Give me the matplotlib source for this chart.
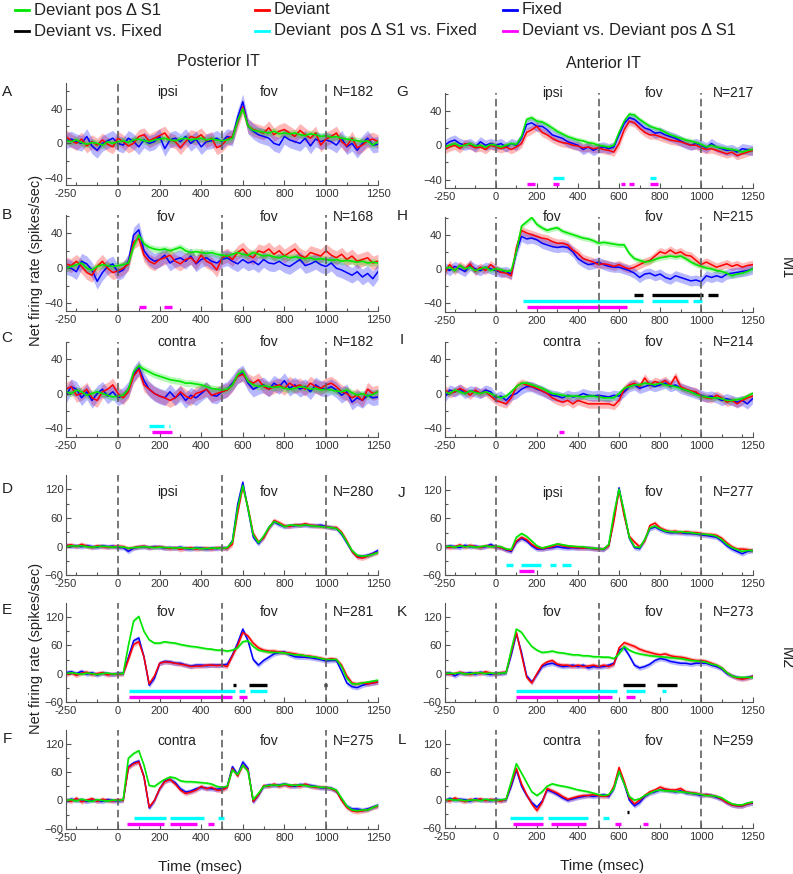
import numpy as np
import matplotlib
matplotlib.use('Agg')
import matplotlib.pyplot as plt

plt.rcParams['font.family'] = ['Liberation Sans', 'DejaVu Sans']

# time grid (msec), one value every 25 ms
t = np.arange(-250, 1251, 25)

# ---------------- M1, posterior IT ----------------
A_green = [3, 2, 4, 1, -1, 1, 0, -2, 2, 0,
           2, 3, 1, 4, 5, 3, 2, 4, 5, 6,
           4, 3, 5, 6, 4, 5, 6, 4, 5, 4,
           3, 4, 6, 26, 40, 20, 15, 14, 13, 12,
           14, 11, 12, 11, 12, 10, 9, 11, 10, 8,
           9, 7, 8, 6, 5, 4, 3, 2, 3, -2, 2]
A_red = [8, 3, 0, 5, -3, 2, -2, 4, -1, -4,
         6, 2, -3, 0, 8, 10, 3, 6, 9, 12,
         4, 2, -5, 2, 8, 6, 10, 3, 6, -5,
         -2, 5, 8, 24, 42, 20, 16, 14, 12, 18,
         10, 14, 16, 12, 8, 15, 10, 6, 12, -2,
         5, 8, 12, 2, -3, 6, -5, -2, 3, 5, 2]
A_blue = [3, 5, 2, 0, 8, -3, -8, 0, 3, 6,
          0, -2, 6, 2, -4, 4, 0, 2, 8, -6,
          4, 6, 2, 8, 0, 5, -4, 2, 3, 6,
          2, 8, 6, 30, 48, 20, 14, 10, 8, 6,
          0, -2, 8, 4, 2, 0, 6, -3, 5, 2,
          4, 2, -2, 6, -4, 0, -8, 0, 6, -2, -1]

B_green = [0, 2, 4, 6, 0, -2, 2, 4, 3, 2,
           3, 4, 6, 25, 38, 28, 24, 22, 21, 22,
           20, 22, 24, 20, 18, 19, 18, 17, 18, 16,
           15, 14, 16, 18, 16, 15, 18, 16, 14, 15,
           13, 12, 14, 12, 13, 12, 11, 12, 10, 11,
           10, 9, 10, 8, 9, 8, 7, 8, 6, 7, 6]
B_red = [5, 3, 8, 2, -5, -8, 2, 8, 0, -5,
         -3, 0, 5, 30, 34, 15, 8, 5, 10, 12,
         15, 8, 5, 10, 12, 6, 15, 8, 5, -2,
         12, 15, 10, 18, 22, 15, 12, 20, 18, 22,
         16, 20, 14, 18, 22, 15, 12, 18, 16, 14,
         20, 15, 12, 16, 10, 14, 8, 10, 12, 6, 8]
B_blue = [2, 0, -4, 8, 5, -2, -15, -5, 2, 5,
          -5, -2, 8, 38, 44, 20, 12, 8, 10, 15,
          6, 10, 12, 8, 14, 5, 10, 12, 8, 6,
          10, 12, 8, 5, 10, 6, 8, 4, 10, 6,
          5, 8, 4, 2, 6, 10, 3, 5, 8, 4,
          2, 6, 0, -2, -5, -8, -4, -10, -6, -12, -4]

C_green = [2, 0, 4, 2, -2, 0, 2, 0, -2, -4,
           -3, -2, 5, 25, 32, 28, 25, 22, 20, 18,
           16, 15, 14, 12, 12, 11, 10, 8, 6, 5,
           4, 5, 10, 22, 26, 14, 10, 8, 9, 8,
           7, 8, 6, 5, 6, 8, 7, 5, 6, 4,
           5, 4, 3, 2, 4, 1, -2, 0, -3, -1, 2]
C_red = [5, 8, -2, 0, 5, -5, -8, 2, 5, 10,
         0, -5, 2, 20, 28, 10, 5, 0, -3, -5,
         -8, -5, 2, -3, -6, 0, 2, 5, -2, 0,
         2, 4, 10, 20, 22, 15, 12, 16, 8, 5,
         8, 10, 6, 12, 8, 10, 5, 12, 8, 6,
         10, 12, 8, 2, 0, -5, -2, -8, 5, 0, 2]
C_blue = [-2, 8, 5, -5, 2, -8, 0, 5, -3, 2,
          -5, -2, 5, 22, 30, 15, 5, 0, -3, -5,
          2, -5, 0, -8, -2, -5, 0, 5, -2, -3,
          2, 5, 12, 20, 24, 12, 5, 8, 10, 5,
          12, 8, 15, 6, 10, 5, 8, 2, 10, 6,
          5, 8, 4, -2, 2, -10, -5, -8, -2, -5, -4]

# ---------------- M1, anterior IT ----------------
G_green = [-2, 0, 2, -1, 0, 2, -1, 0, -2, 1,
           0, -2, 0, 2, 1, 10, 30, 32, 28, 27,
           24, 20, 16, 13, 10, 8, 6, 5, 3, 2,
           0, -1, -2, 0, 15, 28, 36, 35, 30, 26,
           22, 20, 18, 15, 12, 10, 8, 6, 5, 3,
           1, -2, 0, -2, -3, -4, -5, -6, -8, -6, -5]
G_red = [-5, -2, 0, -4, 2, 0, -3, -2, -5, 0,
         -2, -4, -2, -5, -2, 2, 15, 18, 22, 15,
         12, 8, 5, 3, 2, 0, -1, -3, -2, -4,
         -3, -5, -6, -8, 2, 18, 28, 26, 20, 15,
         12, 12, 10, 8, 6, 5, 4, 2, 0, 0,
         -3, -5, -4, -6, -8, -10, -8, -12, -10, -8, -6]
G_blue = [0, 4, 6, 2, 0, 2, -2, 4, 0, 2,
          0, 2, -2, 2, 0, 8, 24, 26, 22, 22,
          18, 12, 10, 8, 4, 2, 0, -5, -2, -6,
          -3, -2, -4, -2, 12, 25, 32, 30, 25, 20,
          18, 14, 15, 12, 10, 8, 5, 2, 0, 2,
          0, -3, 2, -2, -4, -6, -5, -8, -4, -5, -6]

H_green = [0, 2, -2, 4, 0, 2, -2, 0, 2, -2,
           0, -1, -3, -2, 20, 50, 55, 60, 52, 48,
           45, 47, 48, 44, 42, 40, 38, 36, 35, 33,
           30, 31, 30, 29, 28, 28, 18, 12, 10, 8,
           9, 11, 13, 14, 15, 14, 15, 12, 8, 5,
           3, 1, 0, -2, -3, -5, -8, -6, -5, -3, 0]
H_red = [-5, 5, -2, 4, 0, 6, -3, 2, -2, 5,
         0, -4, -5, -8, 25, 45, 42, 40, 38, 36,
         35, 32, 30, 30, 28, 22, 18, 12, 10, 8,
         5, 6, 5, 3, 5, 2, 0, 2, 5, 8,
         10, 15, 20, 18, 22, 18, 20, 16, 15, 10,
         5, 8, 5, 2, 4, 6, 3, 5, 2, 4, 5]
H_blue = [2, -2, 3, 0, -3, 4, 0, -2, 2, 0,
          -2, -4, -3, -6, 20, 38, 35, 36, 34, 30,
          28, 26, 25, 26, 25, 20, 12, 8, 5, 6,
          8, 5, 3, 2, 2, 0, -2, -5, -10, -6,
          -5, -8, -6, -10, -12, -8, -10, -12, -14, -13,
          -15, -8, -10, -8, -10, -6, -5, -4, -3, -2, 0]

I_green = [2, 0, 4, 2, 0, 3, 1, 0, 2, 0,
           -3, -5, -3, 2, 8, 12, 12, 10, 8, 6,
           3, 0, -1, -2, -3, -3, -3, -4, -3, -3,
           -4, -5, -5, -5, 0, 6, 8, 10, 10, 12,
           11, 10, 12, 10, 9, 8, 6, 4, 2, -1,
           -3, -4, -5, -5, -6, -8, -8, -7, -6, -3, 0]
I_red = [5, 0, 2, 6, 3, -2, 4, 0, 2, -3,
         -8, -10, -12, -5, 8, 12, 10, 8, 6, 3,
         0, -5, -8, -10, -8, -12, -8, -10, -12, -12,
         -12, -12, -12, -14, -8, 5, 10, 12, 8, 18,
         10, 14, 12, 15, 10, 20, 8, 5, 3, 2,
         -3, -5, -6, -2, -5, -10, -8, -12, -8, -5, -3]
I_blue = [-5, 4, 2, 5, 0, 3, 2, 0, 4, 2,
          -5, -3, -8, -2, 0, 5, 8, 8, 5, 3,
          0, -2, -3, -5, -2, -4, -3, 0, -2, -3,
          -2, -3, -4, -2, -3, 2, 8, 10, 6, 8,
          10, 8, 10, 12, 8, 10, 6, 4, 2, 0,
          -2, -4, -3, -5, -8, -6, -8, -10, -8, -12, -6]

# ---------------- M2, posterior IT ----------------
D_green = [0, 2, 1, 2, 0, -1, 0, 1, 0, -1,
           0, -1, -3, -2, -1, 0, -1, -2, -1, -2,
           -2, -3, -2, -3, -4, -3, -4, -4, -3, -3,
           -3, -2, 10, 80, 128, 80, 25, 8, 22, 40,
           53, 48, 42, 45, 45, 44, 46, 44, 43, 42,
           41, 40, 38, 28, 10, -8, -18, -20, -19, -16, -12]
D_red = [2, 4, 0, 5, 1, -2, 2, 0, -1, 0,
         1, 0, -4, -2, 0, 1, -2, -1, 0, -2,
         -4, -2, -6, -3, -2, -5, -4, -3, -5, -2,
         -3, -4, 5, 70, 125, 82, 28, 10, 18, 38,
         55, 50, 44, 42, 46, 45, 48, 45, 44, 42,
         42, 40, 40, 30, 12, -10, -22, -24, -20, -15, -12]
D_blue = [3, 1, 2, 0, 2, 0, -1, 2, 0, 1,
          -2, -2, -10, -3, -1, 0, -2, 0, -1, -3,
          -2, -3, -1, -4, -5, -2, -3, -5, -3, -4,
          -2, -3, 12, 88, 135, 78, 20, 6, 20, 40,
          52, 46, 42, 44, 44, 45, 45, 44, 44, 45,
          42, 40, 38, 26, 8, -10, -20, -20, -18, -14, -8]

E_green = [0, 2, 0, -1, 1, 0, -2, 0, 1, -1,
           0, 0, 60, 112, 122, 90, 72, 65, 65, 68,
           66, 65, 62, 60, 58, 57, 55, 53, 52, 50,
           50, 48, 50, 55, 68, 70, 58, 50, 48, 46,
           45, 45, 44, 42, 40, 40, 38, 36, 35, 32,
           30, 30, 30, 15, -10, -22, -22, -20, -18, -16, -14]
E_red = [-3, 2, -4, 1, 3, -2, 0, 2, -3, -1,
         -2, 0, 30, 62, 68, 35, -22, -5, 22, 25,
         24, 22, 20, 18, 15, 16, 16, 18, 18, 17,
         18, 15, 38, 60, 88, 80, 65, 55, 50, 48,
         48, 46, 45, 44, 42, 40, 38, 37, 35, 33,
         30, 32, 30, 18, -5, -20, -22, -20, -22, -20, -18]
E_blue = [2, 4, 0, 5, -1, 2, -3, 1, 0, -2,
          1, 0, 35, 70, 76, 35, -25, -10, 22, 26,
          25, 22, 22, 18, 16, 18, 18, 17, 18, 18,
          18, 20, 40, 65, 95, 70, 30, 18, 28, 35,
          42, 45, 46, 40, 36, 35, 35, 34, 32, 30,
          27, 28, 28, 5, -20, -28, -30, -25, -22, -20, -18]

F_green = [0, 2, -1, 3, 0, -2, 2, 0, -1, 1,
           0, 2, 90, 100, 106, 75, 32, 30, 38, 45,
           50, 48, 42, 40, 40, 39, 38, 37, 35, 30,
           28, 30, 65, 55, 75, 62, 2, 15, 30, 32,
           33, 32, 35, 33, 32, 33, 32, 30, 30, 28,
           28, 26, 22, 5, -12, -20, -22, -20, -20, -15, -10]
F_red = [2, -2, 5, -3, 1, 4, -2, 3, 0, -1,
         2, 0, 70, 78, 82, 50, -14, 0, 25, 40,
         45, 35, 22, 15, 18, 22, 30, 25, 28, 22,
         22, 28, 68, 52, 75, 65, -2, 12, 32, 30,
         35, 30, 34, 30, 33, 30, 35, 30, 28, 28,
         28, 25, 20, 0, -15, -22, -24, -22, -20, -15, -12]
F_blue = [-1, 3, 0, 2, -2, 1, 0, -2, 2, 0,
          -1, 1, 72, 80, 84, 50, -16, 0, 25, 42,
          45, 38, 25, 18, 20, 25, 28, 26, 25, 24,
          25, 30, 72, 55, 82, 68, -3, 12, 30, 33,
          32, 33, 35, 32, 30, 34, 33, 32, 30, 27,
          27, 26, 20, 2, -12, -18, -18, -20, -18, -14, -10]

# ---------------- M2, anterior IT ----------------
J_green = [0, 1, -1, 2, 0, 1, -1, 0, 2, 0,
           1, 0, -5, -6, 20, 28, 22, 12, 2, -3,
           0, 3, 6, 4, 2, 1, 0, 0, -2, -3,
           -4, -5, 5, 70, 122, 75, 20, 0, -2, 15,
           40, 44, 38, 33, 32, 31, 32, 30, 30, 28,
           27, 26, 25, 22, 15, 5, -2, -6, -10, -8, -8]
J_red = [2, -2, 0, 4, -1, 3, 0, -2, 2, 1,
         0, -2, -6, -8, 12, 20, 15, 5, -2, -4,
         -2, 0, 5, 2, 0, -1, -2, -3, -2, -4,
         -5, -5, 2, 55, 120, 65, 22, 10, 0, 12,
         45, 50, 40, 35, 32, 33, 30, 32, 30, 30,
         28, 26, 26, 24, 18, 8, 0, -5, -5, -6, -8]
J_blue = [-1, 2, 0, -2, 3, 0, 1, -1, 0, 5,
          -1, -2, -7, -10, 10, 18, 12, 2, -5, -5,
          -3, -2, 0, -2, -3, -2, -3, -2, -3, -4,
          -5, -6, 3, 60, 125, 70, 18, -2, -4, 15,
          38, 42, 36, 32, 30, 30, 30, 28, 28, 27,
          25, 24, 22, 20, 12, 2, -5, -10, -15, -10, -8]

K_green = [0, 1, 0, 2, -1, 0, 1, 2, 0, 1,
           0, 1, 2, 50, 95, 88, 72, 58, 50, 45,
           46, 48, 45, 44, 42, 40, 40, 38, 38, 36,
           36, 35, 35, 32, 42, 58, 50, 45, 42, 40,
           38, 37, 36, 35, 34, 33, 32, 30, 28, 27,
           26, 24, 20, 18, 12, 2, -5, -8, -8, -8, -8]
K_red = [2, -1, 0, 3, 0, -2, 2, 0, 4, 1,
         -1, 2, 3, 45, 88, 40, -8, -20, 0, 18,
         25, 28, 20, 18, 18, 15, 18, 15, 16, 18,
         15, 18, 15, 20, 55, 66, 62, 58, 52, 48,
         45, 42, 40, 42, 38, 36, 35, 33, 30, 28,
         28, 26, 22, 18, 12, 2, -5, -10, -12, -10, -6]
K_blue = [0, 2, -5, 1, 0, 2, -1, 3, 0, -2,
          1, 0, 2, 40, 85, 45, -5, -18, -2, 15,
          20, 22, 18, 15, 16, 18, 15, 18, 12, 15,
          14, 15, 18, 22, 50, 55, 38, 18, 12, 15,
          20, 28, 32, 30, 26, 24, 22, 22, 20, 22,
          22, 22, 18, 15, 10, 0, -5, -8, -10, -8, -6]

L_green = [0, 2, 0, 1, -1, 0, 1, -1, 2, 0,
           0, 1, 2, 40, 78, 58, 38, 18, 10, 18,
           30, 35, 32, 30, 28, 25, 22, 20, 18, 15,
           12, 10, 12, 25, 62, 35, 8, 0, 3, 10,
           15, 20, 22, 20, 20, 19, 18, 17, 15, 14,
           12, 10, 10, 8, 5, -2, -8, -10, -10, -6, -4]
L_red = [2, -2, 5, 0, -3, 2, 0, 3, -1, 2,
         0, -2, 2, 35, 68, 35, 12, -8, -22, -5,
         25, 20, 15, 8, 2, 5, 8, 10, 10, 12,
         10, 8, 10, 30, 70, 40, 5, -8, 0, 10,
         18, 22, 28, 24, 22, 22, 25, 18, 16, 15,
         12, 12, 10, 8, 2, -5, -10, -12, -12, -8, -5]
L_blue = [-2, 4, 0, 2, 1, -2, 3, 0, 1, -1,
          2, 0, 1, 30, 65, 30, 10, -5, -15, -2,
          22, 18, 12, 5, 0, 3, 6, 8, 10, 8,
          10, 12, 8, 25, 62, 35, 0, -12, -5, 8,
          15, 18, 22, 22, 20, 18, 20, 16, 15, 13,
          10, 12, 10, 6, 2, -5, -10, -12, -12, -8, -6]

# band half widths (green, red, blue)
sem_post_m1 = [4, 8, 9]
sem_ant_m1 = [3, 5, 6]
sem_m2 = [3, 5, 5]

# significance bars: (start ms, end ms, level)
A_bars = {'k': [], 'c': [], 'm': []}
B_bars = {'k': [], 'c': [], 'm': [(100, 135), (220, 260)]}
C_bars = {'k': [], 'c': [(151, 219), (243, 251)], 'm': [(163, 260)]}
G_bars = {'k': [], 'c': [(276, 333), (749, 781)],
          'm': [(152, 192), (279, 308), (610, 631), (650, 671), (749, 792)]}
H_bars = {'k': [(671, 719), (759, 1009), (1031, 1080)],
          'c': [(131, 719), (759, 937), (961, 1002)], 'm': [(152, 638)]}
I_bars = {'k': [], 'c': [], 'm': [(308, 332)]}
D_bars = {'k': [], 'c': [], 'm': []}
E_bars = {'k': [(551, 569), (631, 716), (988, 1005)],
          'c': [(54, 564), (580, 612), (633, 716)], 'm': [(54, 548), (580, 620)]}
F_bars = {'k': [], 'c': [(75, 231), (251, 412), (481, 508)],
          'm': [(43, 223), (251, 380), (431, 460)]}
J_bars = {'k': [], 'c': [(51, 82), (124, 220), (263, 292), (321, 365)],
          'm': [(113, 184)]}
K_bars = {'k': [(620, 728), (786, 883)],
          'c': [(99, 591), (632, 728), (809, 831)], 'm': [(99, 566), (632, 680)]}
L_bars = {'k': [(639, 648)], 'c': [(71, 231), (252, 450), (521, 550)],
          'm': [(82, 231), (271, 439), (579, 610), (719, 740)]}

bar_y_m1 = {'k': -31, 'c': -38, 'm': -44.5}
bar_y_m2 = {'k': -25, 'c': -38, 'm': -51}

# panel: letter, data, stim label, N, pixel box (left, right, top, bottom), ylim, label y
panels = [
    ('A', A_green, A_red, A_blue, sem_post_m1, A_bars, 'ipsi', 182, 'L', (82.7, 185), (-48, 70), 59, 'M1', 91.7),
    ('B', B_green, B_red, B_blue, sem_post_m1, B_bars, 'fov', 168, 'L', (215, 311), (-49, 61), 59, 'M1', 215),
    ('C', C_green, C_red, C_blue, sem_post_m1, C_bars, 'contra', 182, 'L', (341.7, 436.7), (-50, 60), 59.5, 'M1', 338),
    ('D', D_green, D_red, D_blue, sem_m2, D_bars, 'ipsi', 280, 'L', (475, 575.3), (-60, 150), 114, 'M2', 489),
    ('E', E_green, E_red, E_blue, sem_m2, E_bars, 'fov', 281, 'L', (603.3, 701.7), (-60, 150), 132, 'M2', 610),
    ('F', F_green, F_red, F_blue, sem_m2, F_bars, 'contra', 275, 'L', (730, 828.7), (-60, 150), 126, 'M2', 739),
    ('G', G_green, G_red, G_blue, sem_ant_m1, G_bars, 'ipsi', 217, 'R', (92.7, 188.3), (-50, 61), 61, 'M1', 92),
    ('H', H_green, H_red, H_blue, sem_ant_m1, H_bars, 'fov', 215, 'R', (216.7, 311.7), (-50, 61), 61, 'M1', 216),
    ('I', I_green, I_red, I_blue, sem_ant_m1, I_bars, 'contra', 214, 'R', (341.7, 436.7), (-50, 60), 60, 'M1', 340),
    ('J', J_green, J_red, J_blue, sem_m2, J_bars, 'ipsi', 277, 'R', (476, 575), (-60, 150), 115, 'M2', 493),
    ('K', K_green, K_red, K_blue, sem_m2, K_bars, 'fov', 273, 'R', (603.3, 701.7), (-60, 150), 132, 'M2', 612),
    ('L', L_green, L_red, L_blue, sem_m2, L_bars, 'contra', 259, 'R', (730, 828.3), (-60, 150), 126, 'M2', 740),
]

col_x = {'L': (66, 378), 'R': (444.5, 752.5)}
text_x = {'L': (188, 684, 1034), 'R': (227, 723, 1055)}
letter_x = {'L': 7, 'R': 402}

W, H = 793, 874
fig = plt.figure(figsize=(W / 100, H / 100), dpi=100)

col_green = '#00e600'
col_red = '#ff0000'
col_blue = '#0000ff'
bar_cols = {'k': '#000000', 'c': '#00ffff', 'm': '#ff00ff'}
axis_col = '#555555'


def fx(x):
    return x / W


def fy(y):
    return 1 - y / H


for (letter, g, r, b, sem, bars, stim, n, col, (top, bot), ylim, ty, mk, ly) in panels:
    x0, x1 = col_x[col]
    ax = fig.add_axes([fx(x0), fy(bot), (x1 - x0) / W, (bot - top) / H])
    g = np.array(g, float)
    r = np.array(r, float)
    b = np.array(b, float)
    for y, s, c in [(r, sem[1], col_red), (b, sem[2], col_blue), (g, sem[0], col_green)]:
        ax.fill_between(t, y - s, y + s, color=c, alpha=0.28, lw=0)
    ax.plot(t, b, color=col_blue, lw=1.1)
    ax.plot(t, r, color=col_red, lw=1.1)
    ax.plot(t, g, color=col_green, lw=1.2)

    bar_y = bar_y_m1 if mk == 'M1' else bar_y_m2
    for key in ['k', 'c', 'm']:
        for (s0, s1) in bars[key]:
            ax.plot([s0, s1], [bar_y[key], bar_y[key]], color=bar_cols[key],
                    lw=2.4, solid_capstyle='butt')

    for xv in [0, 500, 1000]:
        ax.axvline(xv, color='#606060', lw=1.2, ls=(0, (4.5, 2.5)))

    ax.set_xlim(-250, 1250)
    ax.set_ylim(*ylim)
    ax.set_xticks([-250, 0, 200, 400, 600, 800, 1000, 1250])
    ax.set_xticklabels(['-250', '0', '200', '400', '600', '800', '1000', '1250'])
    ax.set_xticks([-200, -100, 100, 300, 500, 700, 900, 1100, 1200], minor=True)
    if mk == 'M1':
        ax.set_yticks([-40, 0, 40])
        ax.set_yticks([-20, 20, 60], minor=True)
    else:
        ax.set_yticks([-60, 0, 60, 120])
        ax.set_yticks([-30, 30, 90], minor=True)
    ax.tick_params(which='both', direction='in', color=axis_col, labelsize=8,
                   labelcolor='#333333', width=0.8)
    ax.tick_params(which='major', length=3.5)
    ax.tick_params(which='minor', length=2.5)
    ax.tick_params(axis='y', pad=2)
    ax.tick_params(axis='x', pad=3)
    for sp in ['top', 'right']:
        ax.spines[sp].set_visible(False)
    for sp in ['left', 'bottom']:
        ax.spines[sp].set_color(axis_col)
        ax.spines[sp].set_linewidth(0.8)
    ax.patch.set_alpha(0)

    tx = text_x[col]
    ax.text(tx[0], ty, stim, fontsize=10, va='center', ha='left', color='#222222')
    ax.text(tx[1], ty, 'fov', fontsize=10, va='center', ha='left', color='#222222')
    ax.text(tx[2], ty, 'N=%d' % n, fontsize=10, va='center', ha='left', color='#222222')

    fig.text(fx(letter_x[col]), fy(ly), letter, fontsize=11, ha='center', va='center',
             color='#222222')

# column titles, axis labels, monkey labels
fig.text(fx(218), fy(62), 'Posterior IT', fontsize=11.5, ha='center', va='center', color='#222222')
fig.text(fx(603), fy(63), 'Anterior IT', fontsize=11.5, ha='center', va='center', color='#222222')
fig.text(fx(200), fy(867), 'Time (msec)', fontsize=11, ha='center', va='center', color='#222222')
fig.text(fx(602), fy(866), 'Time (msec)', fontsize=11, ha='center', va='center', color='#222222')
fig.text(fx(36), fy(260), 'Net firing rate (spikes/sec)', fontsize=10.5, rotation=90,
         ha='center', va='center', color='#222222')
fig.text(fx(36), fy(648), 'Net firing rate (spikes/sec)', fontsize=10.5, rotation=90,
         ha='center', va='center', color='#222222')
fig.text(fx(786), fy(268), 'M1', fontsize=11.5, rotation=-90, ha='center', va='center', color='#222222')
fig.text(fx(786), fy(658), 'M2', fontsize=11.5, rotation=-90, ha='center', va='center', color='#222222')

# legend drawn on the figure
legend_items = [
    ('Deviant pos \u0394 S1', col_green, 15, 10),
    ('Deviant', col_red, 255, 10),
    ('Fixed', col_blue, 503, 10),
    ('Deviant vs. Fixed', '#000000', 15, 31),
    ('Deviant  pos \u0394 S1 vs. Fixed', '#00ffff', 255, 31),
    ('Deviant vs. Deviant pos \u0394 S1', '#ff00ff', 503, 31),
]
for label, c, lx, lyy in legend_items:
    fig.add_artist(plt.Line2D([fx(lx), fx(lx + 14)], [fy(lyy), fy(lyy)],
                              transform=fig.transFigure, color=c, lw=2))
    fig.text(fx(lx + 19), fy(lyy), label, fontsize=12, ha='left', va='center', color='#222222')

fig.savefig('out.png', dpi=100)
